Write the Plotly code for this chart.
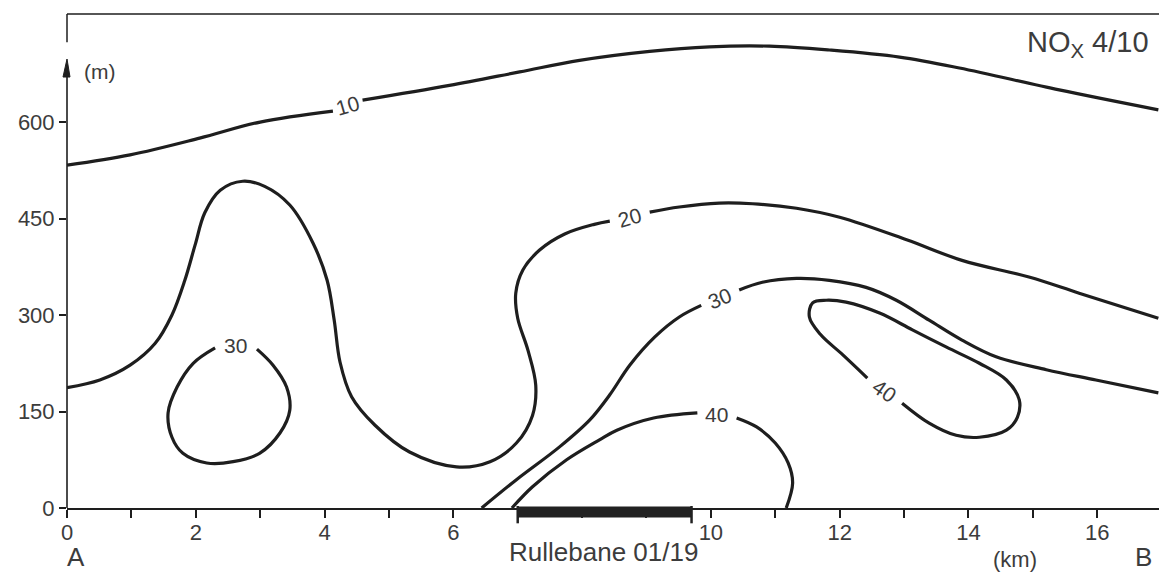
import plotly.graph_objects as go

# ---------------- data (km, m) ----------------
c10_a_x = [0.0, 0.98, 2.06, 3.0, 4.13]
c10_a_y = [533, 549, 575, 600, 617]
c10_b_x = [4.59, 5.94, 7.03, 7.96, 9.05, 9.98, 10.91, 11.84, 12.93, 13.86, 15.41, 16.95]
c10_b_y = [634, 657, 678, 696, 710, 717, 718, 712, 701, 684, 650, 619]

c20_a_x = [0.0, 0.51, 0.98, 1.37, 1.63, 1.83, 1.99, 2.14, 2.38, 2.73, 3.07, 3.46, 3.82,
           4.04, 4.15, 4.24, 4.42, 4.78, 5.32, 6.05, 6.57, 6.98, 7.23, 7.28, 7.16, 7.00,
           6.97, 7.08, 7.34, 7.73, 8.19, 8.43]
c20_a_y = [187, 199, 222, 256, 300, 354, 409, 459, 494, 508, 500, 471, 412,
           354, 292, 227, 173, 129, 87, 64, 72, 101, 144, 191, 245, 295,
           334, 370, 401, 426, 441, 446]
c20_b_x = [9.05, 9.51, 10.13, 10.65, 11.33, 12.00, 13.04, 13.90, 14.94, 15.72, 16.95]
c20_b_y = [460, 468, 474, 473, 466, 452, 417, 385, 359, 334, 295]

c30_loop_x = [2.95, 3.20, 3.41, 3.46, 3.31, 2.99, 2.58, 2.17, 1.80, 1.63, 1.57, 1.71, 1.96, 2.30]
c30_loop_y = [247, 222, 188, 152, 117, 85, 72, 70, 85, 110, 148, 188, 225, 249]

c30_a_x = [6.44, 6.98, 7.65, 8.12, 8.43, 8.74, 9.13, 9.51, 9.85]
c30_a_y = [0, 44, 95, 137, 176, 222, 266, 297, 315]
c30_b_x = [10.44, 10.80, 11.33, 11.84, 12.41, 12.88, 13.39, 13.90, 14.43, 15.21, 15.98, 16.95]
c30_b_y = [339, 351, 357, 354, 343, 323, 292, 261, 235, 215, 199, 179]

c40_loop_x = [12.97, 13.39, 13.81, 14.17, 14.59, 14.76, 14.79, 14.59, 14.17, 13.66, 13.13,
              12.62, 12.10, 11.79, 11.58, 11.53, 11.70, 12.05, 12.43]
c40_loop_y = [163, 132, 113, 110, 121, 141, 168, 199, 225, 250, 277,
              303, 320, 323, 319, 297, 270, 238, 202]

c40_a_x = [6.91, 7.23, 7.76, 8.27, 8.54, 9.11, 9.79]
c40_a_y = [0, 33, 75, 106, 121, 140, 148]
c40_b_x = [10.40, 10.71, 11.00, 11.20, 11.27, 11.17]
c40_b_y = [140, 126, 101, 70, 39, 0]

# contour labels: text, x, y, angle
label_text = ["10", "20", "30", "30", "40", "40"]
label_x = [4.36, 8.74, 10.13, 2.62, 12.69, 10.09]
label_y = [626, 452, 326, 253, 183, 145]
label_angle = [-16, -16, -22, 0, 35, 0]

runway = [7.0, 9.7]
x_ticks_major = [0, 2, 4, 6, 10, 12, 14, 16]   # 8 is hidden by the runway bar
y_ticks = [0, 150, 300, 450, 600]

X_RANGE = [0, 16.96]
Y_RANGE = [0, 768]
Y_ARROW_TOP = 698
Y_FRAME_RESUME = 724

LINE = "#1e1e1e"
TXT = "#3c3c3c"
FONT = "Liberation Sans"

fig = go.Figure()

segments = [
    (c10_a_x, c10_a_y), (c10_b_x, c10_b_y),
    (c20_a_x, c20_a_y), (c20_b_x, c20_b_y),
    (c30_loop_x, c30_loop_y),
    (c30_a_x, c30_a_y), (c30_b_x, c30_b_y),
    (c40_loop_x, c40_loop_y),
    (c40_a_x, c40_a_y), (c40_b_x, c40_b_y),
]
for sx, sy in segments:
    fig.add_trace(go.Scatter(x=sx, y=sy, mode="lines",
                             line=dict(color=LINE, width=3.2, shape="spline", smoothing=1.0),
                             hoverinfo="skip", showlegend=False))

annotations = []
for t, lx, ly, ang in zip(label_text, label_x, label_y, label_angle):
    annotations.append(dict(x=lx, y=ly, xref="x", yref="y", text=t, showarrow=False,
                            textangle=ang, font=dict(family=FONT, size=21, color=TXT)))

annotations += [
    dict(x=0.5, y=678, xref="x", yref="y", text="(m)", showarrow=False,
         font=dict(family=FONT, size=21, color=TXT)),
    dict(x=16.83, y=721, xref="x", yref="y", text="NO<sub>X</sub> 4/10", showarrow=False,
         xanchor="right", font=dict(family=FONT, size=29, color=TXT)),
    dict(x=(runway[0] + runway[1]) / 2 - 0.02, y=-0.089, xref="x", yref="paper",
         text="Rullebane 01/19", showarrow=False, yanchor="middle",
         font=dict(family=FONT, size=26, color=TXT)),
    dict(x=0.14, y=-0.1325, xref="x", yref="paper", text="A", showarrow=False,
         yanchor="bottom", borderpad=0, font=dict(family=FONT, size=26, color=TXT)),
    dict(x=16.72, y=-0.1325, xref="x", yref="paper", text="B", showarrow=False,
         yanchor="bottom", borderpad=0, font=dict(family=FONT, size=26, color=TXT)),
    dict(x=14.72, y=-0.1325, xref="x", yref="paper", text="(km)", showarrow=False,
         yanchor="bottom", borderpad=0, font=dict(family=FONT, size=22, color=TXT)),
]

shapes = [
    # top frame
    dict(type="line", xref="paper", yref="paper", x0=0, x1=1, y0=1, y1=1,
         line=dict(color=LINE, width=1.5)),
    # left axis (with arrow) and upper piece of left frame
    dict(type="line", xref="paper", yref="y", x0=0, x1=0, y0=0, y1=Y_ARROW_TOP - 8,
         line=dict(color=LINE, width=1.6)),
    dict(type="path", xref="paper", yref="y", xsizemode="pixel", ysizemode="pixel",
         xanchor=0, yanchor=Y_ARROW_TOP, path="M -4,-18 L 0,0 L 3,-18 Z",
         fillcolor=LINE, line=dict(color=LINE, width=1)),
    dict(type="line", xref="paper", yref="y", x0=0, x1=0, y0=Y_FRAME_RESUME, y1=Y_RANGE[1],
         line=dict(color=LINE, width=1.5)),
    # runway bar
    dict(type="line", xref="x", yref="paper", x0=runway[0], x1=runway[1], y0=-0.008, y1=-0.008,
         line=dict(color="#222222", width=11)),
    dict(type="line", xref="x", yref="paper", x0=runway[0], x1=runway[0], y0=0.004, y1=-0.031,
         line=dict(color="#222222", width=2.5)),
    dict(type="line", xref="x", yref="paper", x0=runway[1], x1=runway[1], y0=0.004, y1=-0.031,
         line=dict(color="#222222", width=2.5)),
]

fig.update_layout(
    width=1159, height=573,
    margin=dict(l=67, r=0, t=14, b=65),
    paper_bgcolor="white", plot_bgcolor="white",
    showlegend=False,
    annotations=annotations,
    shapes=shapes,
    xaxis=dict(range=X_RANGE, showgrid=False, zeroline=False, showline=True,
               linecolor=LINE, linewidth=1.5, ticks="outside", ticklen=8, tickwidth=1.5,
               tickcolor=LINE, tickvals=x_ticks_major,
               ticktext=[str(v) for v in x_ticks_major],
               ticklabelstandoff=-4,
               minor=dict(dtick=1, tick0=0, ticks="outside", ticklen=8, tickwidth=1.5,
                          tickcolor=LINE),
               tickfont=dict(family=FONT, size=22, color=TXT), fixedrange=True),
    yaxis=dict(range=Y_RANGE, showgrid=False, zeroline=False, showline=False,
               ticks="outside", ticklen=7, tickwidth=1.5, tickcolor=LINE,
               tickvals=y_ticks, ticktext=[str(v) for v in y_ticks],
               tickfont=dict(family=FONT, size=22, color=TXT), fixedrange=True),
)

fig.write_html("out.html", config={"displayModeBar": False})
